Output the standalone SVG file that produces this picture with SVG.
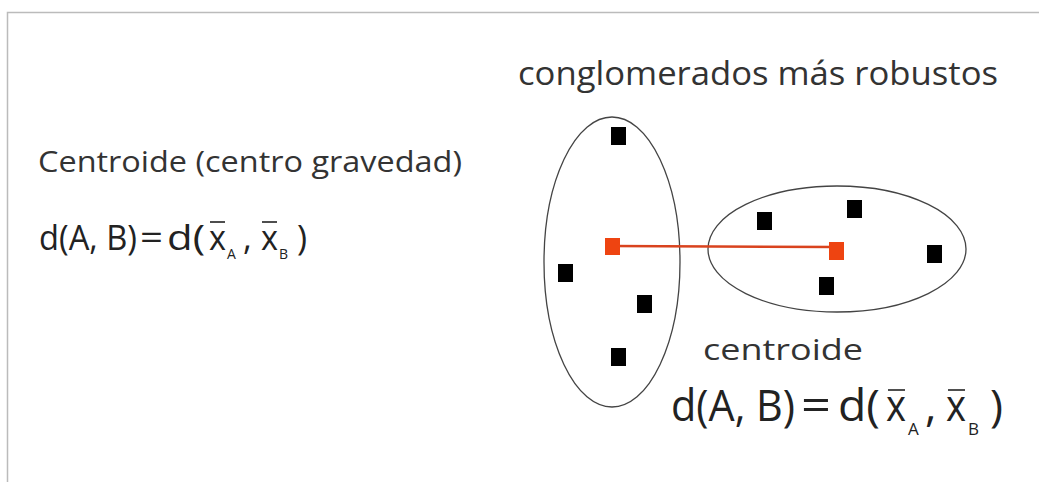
<svg xmlns="http://www.w3.org/2000/svg" width="1039" height="482" viewBox="0 0 1039 482">
<style>
.t{font-family:"Open Sans","Noto Sans","Liberation Sans",sans-serif;fill:#333}
.f{font-family:"Open Sans","Noto Sans","Liberation Sans",sans-serif;fill:#222}
.pt{fill:#000}
.c{fill:#ee4411}
.ell{fill:none;stroke:#444;stroke-width:1.3}
.bar{stroke:#222;stroke-width:1.6}
</style>
<rect x="0" y="0" width="1039" height="482" fill="#fff"/>
<path d="M7.5,482 V12.5 H1039" fill="none" stroke="#bbb" stroke-width="1.5"/>
<g id="title"><text class="t" x="518" y="85" font-size="32" textLength="480" lengthAdjust="spacingAndGlyphs">conglomerados más robustos</text></g>
<g id="label-left"><text class="t" x="38" y="172" font-size="30" textLength="424" lengthAdjust="spacingAndGlyphs">Centroide (centro gravedad)</text></g>
<g id="formula-left" class="f">
<text x="39" y="250" font-size="34" textLength="98" lengthAdjust="spacingAndGlyphs">d(A, B)</text>
<text x="140" y="250" font-size="34" textLength="23" lengthAdjust="spacingAndGlyphs">=</text>
<text x="167" y="250" font-size="34" textLength="38" lengthAdjust="spacingAndGlyphs">d(</text>
<text x="209" y="250" font-size="34" textLength="17" lengthAdjust="spacingAndGlyphs">x</text>
<line class="bar" x1="210" y1="222" x2="225" y2="222"/>
<text x="227" y="259" font-size="14">A</text>
<text x="243" y="250" font-size="34">,</text>
<text x="261" y="250" font-size="34" textLength="17" lengthAdjust="spacingAndGlyphs">x</text>
<line class="bar" x1="262" y1="222" x2="277" y2="222"/>
<text x="279" y="259" font-size="14">B</text>
<text x="297" y="250" font-size="34">)</text>
</g>
<g id="cluster-A">
<ellipse class="ell" cx="612" cy="262" rx="68" ry="145"/>
<rect class="pt" x="611" y="127" width="15" height="18"/>
<rect class="pt" x="558" y="264" width="15" height="18"/>
<rect class="pt" x="637" y="295" width="15" height="18"/>
<rect class="pt" x="611" y="348" width="15" height="18"/>
</g>
<g id="cluster-B">
<ellipse class="ell" cx="837" cy="249" rx="129" ry="63"/>
<rect class="pt" x="757" y="212" width="15" height="18"/>
<rect class="pt" x="847" y="200" width="15" height="18"/>
<rect class="pt" x="927" y="245" width="15" height="18"/>
<rect class="pt" x="819" y="277" width="15" height="18"/>
</g>
<g id="connectors">
<line x1="612" y1="246" x2="836" y2="247" stroke="#d9431e" stroke-width="2.5"/>
</g>
<g id="centroid-A"><rect class="c" x="605" y="238" width="15" height="17"/></g>
<g id="centroid-B"><rect class="c" x="829" y="242" width="15" height="18"/></g>
<g id="label-centroide"><text class="t" x="703" y="360" font-size="30" textLength="160" lengthAdjust="spacingAndGlyphs">centroide</text></g>
<g id="formula-right" class="f">
<text x="671" y="421" font-size="44" textLength="124" lengthAdjust="spacingAndGlyphs">d(A, B)</text>
<text x="801" y="421" font-size="44" textLength="30" lengthAdjust="spacingAndGlyphs">=</text>
<text x="838" y="421" font-size="44" textLength="42" lengthAdjust="spacingAndGlyphs">d(</text>
<text x="886" y="421" font-size="44" textLength="20" lengthAdjust="spacingAndGlyphs">x</text>
<line class="bar" x1="888" y1="390" x2="905" y2="390"/>
<text x="908" y="435" font-size="17">A</text>
<text x="925" y="421" font-size="44">,</text>
<text x="946" y="421" font-size="44" textLength="20" lengthAdjust="spacingAndGlyphs">x</text>
<line class="bar" x1="948" y1="390" x2="965" y2="390"/>
<text x="968" y="435" font-size="17">B</text>
<text x="990" y="421" font-size="44">)</text>
</g>
</svg>
